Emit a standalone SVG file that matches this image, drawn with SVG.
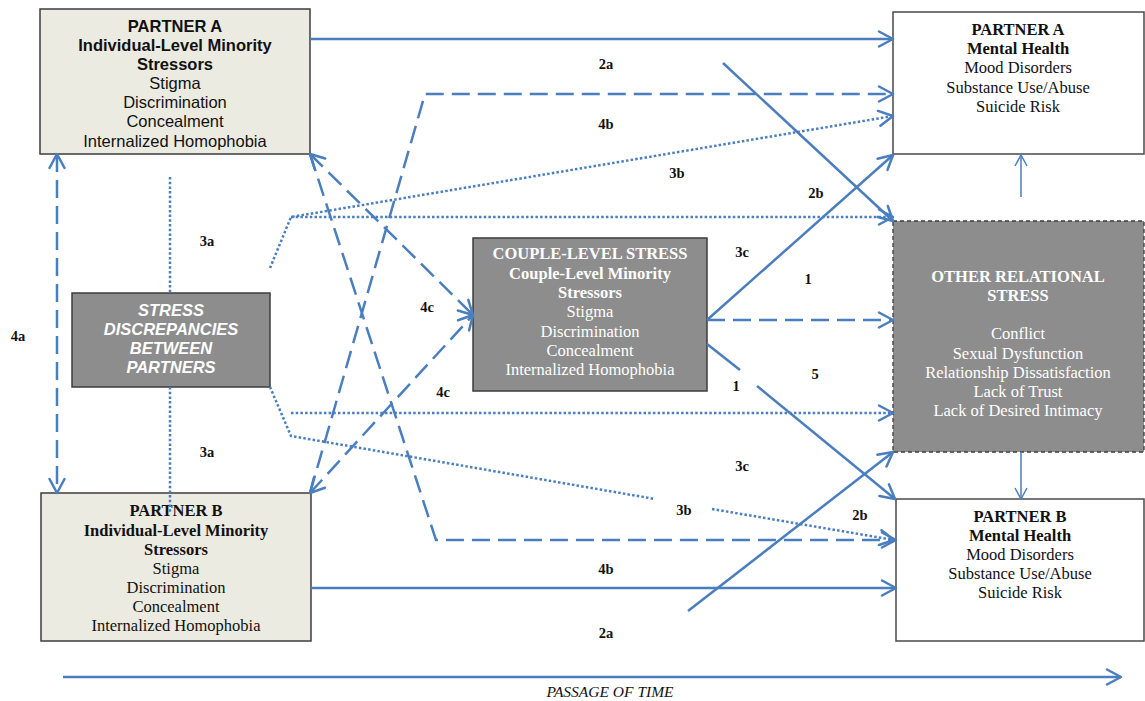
<svg xmlns="http://www.w3.org/2000/svg" width="1145" height="701" viewBox="0 0 1145 701">
<style>
.bg{fill:#ffffff}
.beige{fill:#ecebe1;stroke:#3d3d3d;stroke-width:1.5}
.gray{fill:#8d8d8d;stroke:#3d3d3d;stroke-width:1.5}
.white{fill:#ffffff;stroke:#4a4a4a;stroke-width:1.5}
.grayd{fill:#8d8d8d;stroke:#3d3d3d;stroke-width:1.3;stroke-dasharray:4 3}
.sans{font-family:"Liberation Sans",Arial,sans-serif;font-size:16.5px;fill:#111;text-anchor:middle}
.serif{font-family:"Liberation Serif","Times New Roman",serif;font-size:16.5px;fill:#111;text-anchor:middle}
.wt{fill:#ffffff}
.b{font-weight:bold}
.ital{font-style:italic}
.lbl{font-family:"Liberation Serif","Times New Roman",serif;font-size:14.5px;font-weight:bold;fill:#111;text-anchor:middle}
.ln{fill:none;stroke:#4a7ebf;stroke-width:2.5}
.dash{stroke-dasharray:18 8}
.dot{stroke-dasharray:2.5 2.2}
.thin{fill:none;stroke:#4a7ebf;stroke-width:1.5}
</style>
<defs>
<marker id="ah" viewBox="0 0 18 18" refX="16" refY="9" markerWidth="18" markerHeight="18" markerUnits="userSpaceOnUse" orient="auto-start-reverse">
<path d="M2,1.5 L16,9 L2,16.5" fill="none" stroke="#4a7ebf" stroke-width="2.5" stroke-dasharray="none" stroke-linecap="round" stroke-linejoin="round"/>
</marker>
<marker id="ahs" viewBox="0 0 14 14" refX="12.5" refY="7" markerWidth="14" markerHeight="14" markerUnits="userSpaceOnUse" orient="auto-start-reverse">
<path d="M1.5,1 L12.5,7 L1.5,13" fill="none" stroke="#4a7ebf" stroke-width="1.5" stroke-dasharray="none"/>
</marker>
</defs>
<rect class="bg" x="0" y="0" width="1145" height="701"/>

<g id="partnerA-stressors">
<rect class="beige" x="40" y="9" width="270" height="145"/>
<text class="sans b" x="175" y="32">PARTNER A</text>
<text class="sans b" x="175" y="51">Individual-Level Minority</text>
<text class="sans b" x="175" y="70">Stressors</text>
<text class="sans" x="175" y="89">Stigma</text>
<text class="sans" x="175" y="108">Discrimination</text>
<text class="sans" x="175" y="127">Concealment</text>
<text class="sans" x="175" y="147">Internalized Homophobia</text>
</g>

<g id="partnerB-stressors">
<rect class="beige" x="41" y="493" width="270" height="148"/>
<text class="serif b" x="176" y="516">PARTNER B</text>
<text class="serif b" x="176" y="536">Individual-Level Minority</text>
<text class="serif b" x="176" y="555">Stressors</text>
<text class="serif" x="176" y="574">Stigma</text>
<text class="serif" x="176" y="593">Discrimination</text>
<text class="serif" x="176" y="612">Concealment</text>
<text class="serif" x="176" y="631">Internalized Homophobia</text>
</g>

<g id="stress-discrepancies">
<rect class="gray" x="72" y="293" width="198" height="94"/>
<text class="sans b ital wt" x="171" y="316">STRESS</text>
<text class="sans b ital wt" x="171" y="335">DISCREPANCIES</text>
<text class="sans b ital wt" x="171" y="354">BETWEEN</text>
<text class="sans b ital wt" x="171" y="373">PARTNERS</text>
</g>

<g id="couple-level-stress">
<rect class="gray" x="473" y="238" width="234" height="153"/>
<text class="serif b wt" x="590" y="259">COUPLE-LEVEL STRESS</text>
<text class="serif b wt" x="590" y="279">Couple-Level Minority</text>
<text class="serif b wt" x="590" y="298">Stressors</text>
<text class="serif wt" x="590" y="317">Stigma</text>
<text class="serif wt" x="590" y="337">Discrimination</text>
<text class="serif wt" x="590" y="356">Concealment</text>
<text class="serif wt" x="590" y="375">Internalized Homophobia</text>
</g>

<g id="partnerA-mental-health">
<rect class="white" x="893" y="12" width="251" height="142"/>
<text class="serif b" x="1018" y="35">PARTNER A</text>
<text class="serif b" x="1018" y="54">Mental Health</text>
<text class="serif" x="1018" y="73">Mood Disorders</text>
<text class="serif" x="1018" y="93">Substance Use/Abuse</text>
<text class="serif" x="1018" y="112">Suicide Risk</text>
</g>

<g id="other-relational-stress">
<rect class="grayd" x="893" y="221" width="251" height="231"/>
<text class="serif b wt" x="1018" y="282">OTHER RELATIONAL</text>
<text class="serif b wt" x="1018" y="301">STRESS</text>
<text class="serif wt" x="1018" y="339">Conflict</text>
<text class="serif wt" x="1018" y="359">Sexual Dysfunction</text>
<text class="serif wt" x="1018" y="378">Relationship Dissatisfaction</text>
<text class="serif wt" x="1018" y="397">Lack of Trust</text>
<text class="serif wt" x="1018" y="416">Lack of Desired Intimacy</text>
</g>

<g id="partnerB-mental-health">
<rect class="white" x="896" y="499" width="248" height="142"/>
<text class="serif b" x="1020" y="522">PARTNER B</text>
<text class="serif b" x="1020" y="541">Mental Health</text>
<text class="serif" x="1020" y="560">Mood Disorders</text>
<text class="serif" x="1020" y="579">Substance Use/Abuse</text>
<text class="serif" x="1020" y="598">Suicide Risk</text>
</g>

<g id="connectors">
<line class="ln" x1="310" y1="39" x2="893" y2="39" marker-end="url(#ah)"/>
<line class="ln" x1="311" y1="588" x2="896" y2="588" marker-end="url(#ah)"/>
<polyline class="ln dash" points="310,493 425,94 893,94" marker-end="url(#ah)"/>
<polyline class="ln dash" points="310,154 436,540 896,540" marker-end="url(#ah)"/>
<line class="ln dash" x1="310" y1="154" x2="473" y2="315" marker-start="url(#ah)" marker-end="url(#ah)"/>
<line class="ln dash" x1="310" y1="493" x2="473" y2="315" marker-start="url(#ah)" marker-end="url(#ah)"/>
<line class="ln dash" x1="57" y1="154" x2="57" y2="493" marker-start="url(#ah)" marker-end="url(#ah)"/>
<line class="ln dot" x1="170" y1="177" x2="170" y2="293"/>
<line class="ln dot" x1="170" y1="387" x2="170" y2="513"/>
<polyline class="ln dot" points="270,268 291,217 893,116" marker-end="url(#ah)"/>
<line class="ln dot" x1="291" y1="217" x2="893" y2="217" marker-end="url(#ah)"/>
<line class="ln dot" x1="291" y1="413" x2="893" y2="413" marker-end="url(#ah)"/>
<polyline class="ln dot" points="270,387 291,436 655,499"/>
<line class="ln dot" x1="712" y1="509" x2="894" y2="540" marker-end="url(#ah)"/>
<line class="ln" x1="707" y1="320" x2="893" y2="155" marker-end="url(#ah)"/>
<line class="ln dash" x1="707" y1="320" x2="893" y2="320" marker-end="url(#ah)"/>
<line class="ln" x1="707" y1="344" x2="740" y2="370"/>
<line class="ln" x1="757" y1="386" x2="895" y2="499" marker-end="url(#ah)"/>
<line class="ln" x1="723" y1="63" x2="893" y2="221" marker-end="url(#ah)"/>
<line class="ln" x1="688" y1="611" x2="893" y2="452" marker-end="url(#ah)"/>
<line class="thin" x1="1021" y1="197" x2="1021" y2="155" marker-end="url(#ahs)"/>
<line class="thin" x1="1021" y1="452" x2="1021" y2="499" marker-end="url(#ahs)"/>
<line class="ln" x1="63" y1="677" x2="1121" y2="677" marker-end="url(#ah)"/>
</g>

<g id="labels">
<text class="lbl" x="606" y="69">2a</text>
<text class="lbl" x="606" y="129">4b</text>
<text class="lbl" x="677" y="178">3b</text>
<text class="lbl" x="816" y="198">2b</text>
<text class="lbl" x="742" y="257">3c</text>
<text class="lbl" x="808" y="284">1</text>
<text class="lbl" x="815" y="379">5</text>
<text class="lbl" x="736" y="391">1</text>
<text class="lbl" x="427" y="312">4c</text>
<text class="lbl" x="443" y="397">4c</text>
<text class="lbl" x="742" y="471">3c</text>
<text class="lbl" x="684" y="515">3b</text>
<text class="lbl" x="860" y="520">2b</text>
<text class="lbl" x="606" y="574">4b</text>
<text class="lbl" x="606" y="638">2a</text>
<text class="lbl" x="207" y="246">3a</text>
<text class="lbl" x="207" y="457">3a</text>
<text class="lbl" x="18" y="341">4a</text>
<text class="serif ital" x="610" y="697" style="font-size:15.5px">PASSAGE OF TIME</text>
</g>
</svg>
